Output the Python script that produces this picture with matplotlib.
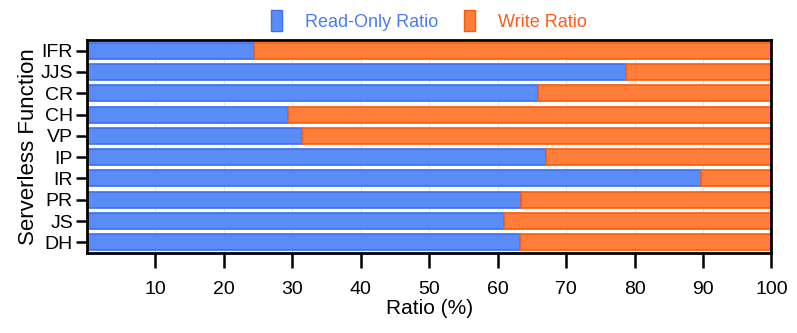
import numpy as np
import matplotlib
matplotlib.use('Agg')
import matplotlib.pyplot as plt
from matplotlib.patches import Patch

plt.rcParams['font.family'] = ['Liberation Sans', 'DejaVu Sans']

# functions, bottom to top
functions = ['DH', 'JS', 'PR', 'IR', 'IP', 'VP', 'CH', 'CR', 'JJS', 'IFR']
read_only = [63.2, 60.9, 63.4, 89.7, 67.1, 31.4, 29.4, 65.9, 78.8, 24.4]
write = [100 - r for r in read_only]

blue_face = '#5a8cf8'
blue_edge = '#3b6ff2'
orange_face = '#ff7f3a'
orange_edge = '#ff5a05'

fig, ax = plt.subplots(figsize=(7.97, 3.33), dpi=100)
y = np.arange(len(functions))
ax.barh(y, read_only, height=0.75, color=blue_face, edgecolor=blue_edge, linewidth=1.2)
ax.barh(y, write, left=read_only, height=0.75, color=orange_face, edgecolor=orange_edge, linewidth=1.2)

ax.set_xlim(0, 100)
ax.set_ylim(-0.5, len(functions) - 0.5)
ax.set_yticks(y)
ax.set_yticklabels(functions, fontsize=14)
ax.set_xticks(np.arange(10, 101, 10))
ax.tick_params(axis='x', labelsize=14, length=11, width=1.8, pad=9)
ax.tick_params(axis='y', length=8, width=1.8, pad=2)
ax.xaxis.grid(True, color='#e6e6e6', linewidth=0.8)
ax.set_axisbelow(True)
for s in ax.spines.values():
    s.set_linewidth(2)
    s.set_color('black')

ax.set_xlabel('Ratio (%)', fontsize=15, labelpad=1)
ax.set_ylabel('Serverless Function', fontsize=16, labelpad=1)

handles = [Patch(facecolor=blue_face, edgecolor=blue_edge, label='Read-Only Ratio'),
           Patch(facecolor=orange_face, edgecolor=orange_edge, label='Write Ratio')]
leg = ax.legend(handles=handles, loc='lower center', bbox_to_anchor=(0.5, 1.0), ncol=2,
                frameon=False, fontsize=13, handlelength=0.6, handleheight=1.4,
                columnspacing=1.4, handletextpad=1.3, borderaxespad=0.1)
for t, c in zip(leg.get_texts(), ['#4a7cf0', '#ff5a1a']):
    t.set_color(c)

plt.subplots_adjust(left=0.109, right=0.968, top=0.88, bottom=0.24)
plt.savefig('out.png', dpi=100)
